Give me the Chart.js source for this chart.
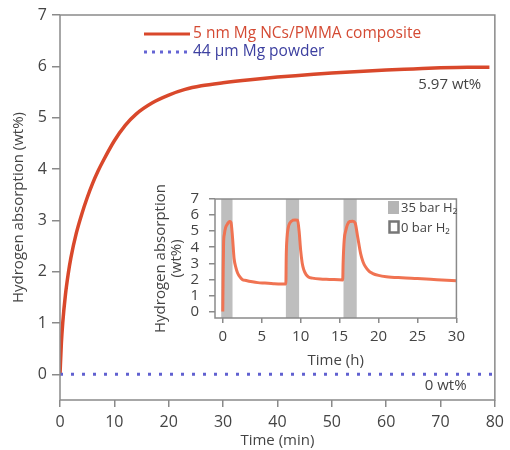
<!DOCTYPE html>
<html>
<head>
<meta charset="utf-8">
<script src="https://cdn.jsdelivr.net/npm/chart.js@4/dist/chart.umd.min.js"></script>
<style>
  html, body { margin: 0; padding: 0; background: #fff; }
  #wrap { position: relative; width: 510px; height: 450px; }
  #main { position: absolute; left: 0; top: 0; }
  #inset { position: absolute; left: 140px; top: 180px; }
</style>
</head>
<body>
<div id="wrap">
  <canvas id="main" width="510" height="450"></canvas>
  <canvas id="inset" width="330" height="190"></canvas>
</div>
<script>
// main plot: absorption vs time (min)
const minTime = [0, 0.25, 0.5, 1, 1.5, 2, 3, 4, 5, 6, 7, 8, 10, 12, 14, 17, 20, 23, 26, 30, 35, 40, 45, 50, 55, 60, 65, 70, 75, 79];
const ncAbsorption = [0, 0.6, 1.0, 1.55, 1.95, 2.27, 2.75, 3.12, 3.44, 3.72, 3.96, 4.17, 4.55, 4.85, 5.07, 5.29, 5.44, 5.55, 5.62, 5.68, 5.74, 5.79, 5.83, 5.87, 5.9, 5.93, 5.95, 5.97, 5.98, 5.98];
const powderTime = [0, 80];
const powderAbsorption = [0, 0];
const mainXTicks = [0, 10, 20, 30, 40, 50, 60, 70, 80];
const mainYTicks = [0, 1, 2, 3, 4, 5, 6, 7];

// inset: cycling, time in hours
const cycTime = [0, 0.05, 0.1, 0.2, 0.35, 0.6, 0.85, 1.05, 1.25, 1.45, 1.7, 1.9, 2.2, 2.5, 3, 3.8, 4.5, 5.4, 6.5, 7.5, 8.1,
  8.15, 8.25, 8.4, 8.6, 9.0, 9.3, 9.6, 9.8, 10.0, 10.2, 10.4, 10.7, 11.0, 11.5, 12.5, 13.7, 15.4,
  15.45, 15.6, 15.8, 16.0, 16.3, 16.7, 17.0, 17.3, 17.7, 18.0, 18.3, 18.8, 19.2, 20, 21, 23, 25, 27.5, 30];
const cycAbsorption = [0, 2.5, 4.2, 4.8, 5.2, 5.45, 5.6, 5.55, 4.6, 3.3, 2.7, 2.4, 2.15, 2.0, 1.93, 1.85, 1.8, 1.77, 1.73, 1.71, 1.71,
  3.5, 4.6, 5.2, 5.5, 5.68, 5.7, 5.68, 5.0, 3.8, 3.0, 2.6, 2.3, 2.15, 2.08, 2.02, 2.0, 1.97,
  3.0, 4.5, 5.05, 5.4, 5.6, 5.62, 5.5, 4.7, 3.6, 3.1, 2.8, 2.5, 2.38, 2.25, 2.17, 2.1, 2.05, 1.98, 1.91];
const bandStart = [-0.2, 8.1, 15.5];
const bandEnd = [1.25, 9.8, 17.2];
const insetXTicks = [0, 5, 10, 15, 20, 25, 30];
const insetYTicks = [0, 1, 2, 3, 4, 5, 6, 7];

const FONT = "'Open Sans', 'Noto Sans', sans-serif";
const TXT = '#444';
const AXC = '#8a8a8a';

function pts(xs, ys) { return xs.map((x, i) => ({ x: x, y: ys[i] })); }
function setTicks(arr) { return function (s) { s.ticks = arr.map(v => ({ value: v })); }; }

const framePlugin = {
  id: 'frame',
  afterDraw(chart) {
    const { ctx, chartArea: a } = chart;
    ctx.save();
    ctx.strokeStyle = AXC;
    ctx.lineWidth = 1.5;
    ctx.strokeRect(a.left, a.top, a.right - a.left, a.bottom - a.top);
    ctx.restore();
  }
};

const mainText = {
  id: 'mainText',
  afterDraw(chart) {
    const ctx = chart.ctx;
    const xs = chart.scales.x, ys = chart.scales.y;
    ctx.save();
    ctx.font = '15.5px ' + FONT;
    ctx.textBaseline = 'middle';
    // legend
    ctx.strokeStyle = '#d9482b';
    ctx.lineWidth = 3;
    ctx.beginPath(); ctx.moveTo(144, 34); ctx.lineTo(190, 34); ctx.stroke();
    ctx.fillStyle = '#d44a33';
    ctx.fillText('5 nm Mg NCs/PMMA composite', 193, 34);
    ctx.strokeStyle = '#6464d4';
    ctx.setLineDash([3, 5]);
    ctx.beginPath(); ctx.moveTo(144, 52); ctx.lineTo(190, 52); ctx.stroke();
    ctx.setLineDash([]);
    ctx.fillStyle = '#3d40a0';
    ctx.fillText('44 \u03bcm Mg powder', 193, 52);
    // value labels
    ctx.font = '15px ' + FONT;
    ctx.fillStyle = TXT;
    ctx.textAlign = 'right';
    ctx.fillText('5.97 wt%', xs.getPixelForValue(77.5), ys.getPixelForValue(5.65));
    ctx.fillText('0 wt%', xs.getPixelForValue(74.8), ys.getPixelForValue(-0.23));
    ctx.restore();
  }
};

new Chart(document.getElementById('main').getContext('2d'), {
  type: 'line',
  data: {
    datasets: [{
      data: pts(powderTime, powderAbsorption),
      borderColor: '#6060d0',
      borderWidth: 3,
      borderDash: [3, 8],
      pointRadius: 0
    }, {
      data: pts(minTime, ncAbsorption),
      borderColor: '#d9482b',
      borderWidth: 3.5,
      pointRadius: 0,
      cubicInterpolationMode: 'monotone'
    }]
  },
  options: {
    responsive: false,
    animation: false,
    layout: { padding: { top: 15, right: 9, left: 0, bottom: 0 } },
    plugins: { legend: { display: false }, tooltip: { enabled: false } },
    scales: {
      x: {
        type: 'linear', min: 0, max: 80,
        afterBuildTicks: setTicks(mainXTicks),
        afterFit: s => { s.height = 50; },
        border: { display: false },
        grid: { drawOnChartArea: false, color: AXC, tickLength: 7, lineWidth: 1.5 },
        ticks: { color: TXT, font: { family: FONT, size: 16 }, padding: 6, maxRotation: 0, autoSkip: false },
        title: { display: true, text: 'Time (min)', color: TXT, font: { family: FONT, size: 15 }, padding: { top: 0, bottom: 0 } }
      },
      y: {
        type: 'linear', min: -0.5, max: 7,
        afterBuildTicks: setTicks(mainYTicks),
        afterFit: s => { s.width = 60; },
        border: { display: false },
        grid: { drawOnChartArea: false, color: AXC, tickLength: 8, lineWidth: 1.5 },
        ticks: { color: TXT, font: { family: FONT, size: 16 }, padding: 5, autoSkip: false },
        title: { display: true, text: 'Hydrogen absorption (wt%)', color: TXT, font: { family: FONT, size: 15 }, padding: { top: 10, bottom: 0 } }
      }
    }
  },
  plugins: [framePlugin, mainText]
});

const bandPlugin = {
  id: 'bands',
  beforeDatasetsDraw(chart) {
    const { ctx, chartArea: a } = chart;
    const xs = chart.scales.x;
    ctx.save();
    ctx.fillStyle = 'rgba(150,150,150,0.62)';
    bandStart.forEach((b, i) => {
      const x0 = Math.max(xs.getPixelForValue(b), a.left);
      const x1 = xs.getPixelForValue(bandEnd[i]);
      ctx.fillRect(x0, a.top, x1 - x0, a.bottom - a.top);
    });
    ctx.restore();
  }
};

const insetLegend = {
  id: 'insetLegend',
  afterDraw(chart) {
    const ctx = chart.ctx;
    ctx.save();
    ctx.fillStyle = 'rgba(150,150,150,0.7)';
    ctx.fillRect(248, 21, 11, 13);
    ctx.strokeStyle = '#777';
    ctx.lineWidth = 2.5;
    ctx.strokeRect(249.5, 41.5, 9, 11);
    ctx.fillStyle = TXT;
    ctx.font = '13px ' + FONT;
    ctx.textBaseline = 'middle';
    ctx.fillText('35 bar H\u2082', 261, 28);
    ctx.fillText('0 bar H\u2082', 261, 48);
    ctx.restore();
  }
};

new Chart(document.getElementById('inset').getContext('2d'), {
  type: 'line',
  data: {
    datasets: [{
      data: pts(cycTime, cycAbsorption),
      borderColor: '#f07352',
      borderWidth: 3,
      pointRadius: 0,
      cubicInterpolationMode: 'monotone'
    }]
  },
  options: {
    responsive: false,
    animation: false,
    layout: { padding: { top: 15, right: 7, left: 0, bottom: 0 } },
    plugins: { legend: { display: false }, tooltip: { enabled: false } },
    scales: {
      x: {
        type: 'linear', min: -1, max: 30,
        afterBuildTicks: setTicks(insetXTicks),
        afterFit: s => { s.height = 52; },
        border: { display: false },
        grid: { drawOnChartArea: false, color: AXC, tickLength: 5, lineWidth: 1.5 },
        ticks: { color: TXT, font: { family: FONT, size: 15 }, padding: 5, maxRotation: 0, autoSkip: false },
        title: { display: true, text: 'Time (h)', color: TXT, font: { family: FONT, size: 15 }, padding: { top: 0, bottom: 0 } }
      },
      y: {
        type: 'linear', min: -0.4, max: 7,
        afterBuildTicks: setTicks(insetYTicks),
        afterFit: s => { s.width = 75; },
        border: { display: false },
        grid: { drawOnChartArea: false, color: AXC, tickLength: 6, lineWidth: 1.5 },
        ticks: { color: TXT, font: { family: FONT, size: 15 }, padding: 10, autoSkip: false },
        title: { display: true, text: ['Hydrogen absorption', '(wt%)'], color: TXT, font: { family: FONT, size: 15, lineHeight: 1.1 }, padding: { top: 12, bottom: 0 } }
      }
    }
  },
  plugins: [bandPlugin, framePlugin, insetLegend]
});
</script>
</body>
</html>
